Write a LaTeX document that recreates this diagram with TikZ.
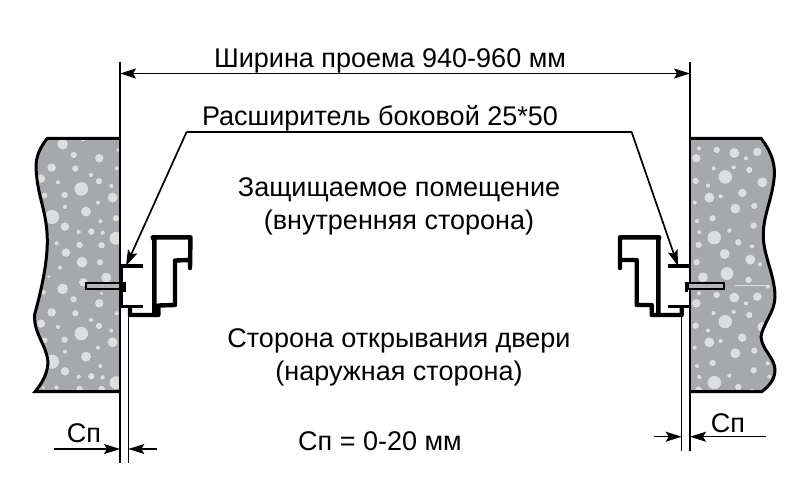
\documentclass[tikz,border=0pt]{standalone}
\usepackage{fontspec}
\setmainfont{Liberation Sans}
\usetikzlibrary{arrows.meta}
\definecolor{wallgray}{HTML}{A7A8AB}
\definecolor{bubblegray}{HTML}{DDDEE0}
\definecolor{shadegray}{HTML}{9A9B9E}
\tikzset{
  label/.style={inner sep=0pt,align=center,font=\fontsize{27}{33}\selectfont},
  dimline/.style={line width=1.3pt,-{Stealth[length=16pt,width=10pt,inset=3pt]}},
  extline/.style={line width=1.4pt},
  leader/.style={line width=1.7pt},
  wallline/.style={line width=3pt,line join=miter},
  profile/.style={line width=4.4pt,line join=round,line cap=round},
  flange/.style={line width=3.4pt},
  plate/.style={draw,line width=2.2pt,fill=wallgray!85!white}
}
\begin{document}
\begin{tikzpicture}[x=1pt,y=-1pt]
  \useasboundingbox (0,0) rectangle (800,503);
  \fill[white] (0,0) rectangle (800,503);

  \coordinate (lefttop) at (119.5,138.3);
  \coordinate (leftbot) at (119.5,391.7);
  \coordinate (righttop) at (690,138.3);
  \coordinate (rightbot) at (690,391.7);

  \begin{scope}
    \clip (lefttop) -- (47.3,138.3) .. controls (38,150) and (35,160) .. (36.3,172)
      .. controls (38,198) and (47,212) .. (47.3,240)
      .. controls (47.5,265) and (40,295) .. (34.5,315)
      .. controls (34,335) and (47,345) .. (48,363)
      .. controls (47,375) and (42,383) .. (35,391.7) -- (leftbot) -- cycle;
    \fill[wallgray] (0,100) rectangle (119.5,400);
    \foreach \bx/\by/\br in {128/43/15,161/75/9,238/85/12,95/113/12,166/116/9,213/135/6,63/146/12,
      114/157/6,237/154/9,274/168/6,184/177/19,74/197/8,134/195/9,278/203/14,234/218/6,135/231/6,
      198/245/14,96/261/20,241/274/6,288/265/9,135/290/12,176/306/6,214/305/9,248/308/6,288/325/18,
      110/340/6,179/345/9,245/346/9,138/368/12,186/397/15,240/397/9,120/413/6,87/440/5,259/443/14,
      190/457/12,128/477/15,70/487/7,245/490/5,161/508/9,238/520/12,95/547/12,166/550/9,290/550/6,
      213/570/6,63/581/12,114/591/6,237/588/9,274/602/6,184/611/19,74/631/8,134/629/9,278/637/14,
      234/653/6,135/665/6,198/680/14,96/695/20,241/708/6,135/724/12,176/740/6,214/739/9,248/742/6,
      288/758/18,70/773/5,110/773/6,179/777/9,245/777/9,190/28/6,294/60/5,290/115/6}
    {
      \fill[shadegray] ({20+\bx/3+0.3},{130+\by/3+0.5}) circle ({\br/2.8*1pt});
      \fill[bubblegray] ({20+\bx/3},{130+\by/3}) circle ({\br/2.8*1pt});
    }
  \end{scope}
  \draw[wallline] (lefttop) -- (47.3,138.3) .. controls (38,150) and (35,160) .. (36.3,172)
      .. controls (38,198) and (47,212) .. (47.3,240)
      .. controls (47.5,265) and (40,295) .. (34.5,315)
      .. controls (34,335) and (47,345) .. (48,363)
      .. controls (47,375) and (42,383) .. (35,391.7) -- (leftbot);

  \begin{scope}
    \clip (righttop) -- (761,138.3) .. controls (770,150) and (774,160) .. (774.5,172)
      .. controls (774,195) and (763,215) .. (763.3,235)
      .. controls (763,255) and (775,275) .. (775,297)
      .. controls (775,312) and (762,325) .. (761,337)
      .. controls (762,350) and (775,358) .. (775,370)
      .. controls (775,380) and (768,387) .. (761.7,391.7) -- (rightbot) -- cycle;
    \fill[wallgray] (690,100) rectangle (790,400);
    \foreach \bx/\by/\br in {57/55/6,110/60/9,163/69/14,232/66/12,49/85/12,198/85/6,101/115/6,161/112/6,
      208/120/9,136/141/19,47/153/9,84/167/6,247/157/14,122/199/6,88/203/14,44/218/6,187/189/12,223/228/9,
      166/236/14,98/265/9,51/273/6,221/287/9,148/302/6,58/307/6,103/323/19,175/337/9,216/349/6,56/345/9,
      134/372/14,211/389/14,50/397/9,240/403/6,141/431/18,69/442/14,206/450/9,57/490/6,110/495/9,163/503/14,
      232/500/12,49/520/12,198/520/6,101/549/6,161/546/6,208/555/9,136/575/19,47/587/9,84/602/6,247/591/14,
      122/633/6,88/637/14,44/653/6,187/623/12,223/662/9,166/670/14,98/699/9,51/708/6,221/721/9,148/737/6,
      58/741/6,103/758/19,175/771/9,216/783/6,56/779/9,268/740/6,263/700/6,263/470/6,278/530/5}
    {
      \fill[shadegray] ({680+\bx/3+0.3},{130+\by/3+0.5}) circle ({\br/2.8*1pt});
      \fill[bubblegray] ({680+\bx/3},{130+\by/3}) circle ({\br/2.8*1pt});
    }
    \draw[bubblegray,line width=0.7pt] (735,285.3) -- (770,285.3);
  \end{scope}
  \draw[wallline] (righttop) -- (761,138.3) .. controls (770,150) and (774,160) .. (774.5,172)
      .. controls (774,195) and (763,215) .. (763.3,235)
      .. controls (763,255) and (775,275) .. (775,297)
      .. controls (775,312) and (762,325) .. (761,337)
      .. controls (762,350) and (775,358) .. (775,370)
      .. controls (775,380) and (768,387) .. (761.7,391.7) -- (rightbot);

  \coordinate (dimleft) at (120,62);
  \coordinate (dimleftend) at (120,462.5);
  \coordinate (dimright) at (690,62);
  \coordinate (dimrightend) at (690,451);
  \coordinate (gapleft) at (128.3,308);
  \coordinate (gapleftend) at (128.3,462.5);
  \coordinate (gapright) at (681.7,315);
  \coordinate (gaprightend) at (681.7,451);
  \draw[extline] (dimleft) -- (dimleftend);
  \draw[extline] (dimright) -- (dimrightend);
  \draw[extline] (gapleft) -- (gapleftend);
  \draw[extline] (gapright) -- (gaprightend);

  \coordinate (widthleft) at (120,73.5);
  \coordinate (widthright) at (690,73.5);
  \draw[dimline] (widthright) -- (widthleft);
  \draw[dimline] (widthleft) -- (widthright);
  \node[label] (width) at (390,61) {Ширина проема 940-960 мм};

  \coordinate (leadleft) at (186.7,131.7);
  \coordinate (leadright) at (631.5,131.7);
  \coordinate (tipleft) at (126,266);
  \coordinate (tipright) at (678,266);
  \draw[leader] (leadleft) -- (leadright);
  \draw[dimline,line width=1.7pt] (leadleft) -- (tipleft);
  \draw[dimline,line width=1.7pt] (leadright) -- (tipright);
  \node[label] (extender) at (380,118) {Расширитель боковой 25*50};

  \node[label] (inner) at (399,206.5) {Защищаемое помещение\\(внутренняя сторона)};
  \node[label] (outer) at (399,357) {Сторона открывания двери\\(наружная сторона)};
  \node[label] (formula) at (380,441) {Сп = 0-20 мм};

  \draw[plate] (86,283.3) rectangle (120,289);
  \draw[flange] (121.7,265) -- (121.7,307);
  \draw[flange] (120,266) -- (142.7,266);
  \draw[flange] (120,306.7) -- (142.7,306.7);
  \fill (122,281.5) rectangle (125.5,292);
  \draw[profile] (190,268) -- (190.5,237.3) -- (152.5,237.3) -- (154.3,240) -- (154.3,315)
    (130,309) -- (130,315) -- (158.3,315) -- (158.3,305.5) -- (175,305) -- (175,260.5) -- (190,260);

  \draw[plate] (688,283.3) rectangle (724,289);
  \draw[flange] (668,266) -- (690,266);
  \draw[flange] (668,306.7) -- (690,306.7);
  \fill (684.5,281.5) rectangle (688,292);
  \draw[profile] (620,268) -- (620,237.3) -- (659.3,237.3) -- (658.3,240) -- (658.3,315)
    (681.7,309) -- (681.7,315) -- (651.7,315) -- (651.7,305) -- (636.7,305) -- (636.7,260) -- (620,260);

  \coordinate (gapleftin) at (54,449);
  \coordinate (gapleftout) at (156.7,449);
  \coordinate (gaprightin) at (653.5,436.7);
  \coordinate (gaprightout) at (765.5,436.7);
  \coordinate (gaplefttip) at (120,449);
  \coordinate (gapleftsec) at (128.3,449);
  \coordinate (gaprighttip) at (681.7,436.7);
  \coordinate (gaprightsec) at (690,436.7);
  \draw[dimline] (gapleftin) -- (gaplefttip);
  \draw[dimline] (gapleftout) -- (gapleftsec);
  \draw[dimline] (gaprightin) -- (gaprighttip);
  \draw[dimline] (gaprightout) -- (gaprightsec);
  \node[label] (spleft) at (84,433) {Сп};
  \node[label] (spright) at (728,423) {Сп};
\end{tikzpicture}
\end{document}
